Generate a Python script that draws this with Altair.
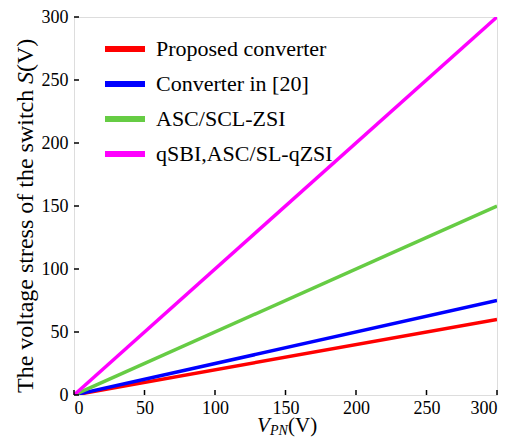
import altair as alt
import pandas as pd

# data
vpn = [0, 300]
series_names = ["Proposed converter", "Converter in [20]", "ASC/SCL-ZSI", "qSBI,ASC/SL-qZSI"]
proposed = [0, 60]
conv20 = [0, 75]
asc_scl = [0, 150]
qsbi = [0, 300]
colors = ["#ff0000", "#0000ff", "#66cc44", "#ff00ff"]
tick_vals = [0, 50, 100, 150, 200, 250, 300]

rows = []
for name, vals in zip(series_names, [proposed, conv20, asc_scl, qsbi]):
    for xv, yv in zip(vpn, vals):
        rows.append({"series": name, "vpn": xv, "stress": yv})
df = pd.DataFrame(rows)
ticks_df = pd.DataFrame({"t": tick_vals})
one = pd.DataFrame({"a": [0]})

W, H = 423, 378
FONT = "Liberation Serif"

xscale = alt.Scale(domain=[0, 300], nice=False)
yscale = alt.Scale(domain=[0, 300], nice=False)
xaxis = alt.Axis(values=tick_vals, title=None, tickSize=0, domain=False, grid=False,
                 labelFont=FONT, labelFontSize=18, labelColor="black", labelPadding=4)
yaxis = alt.Axis(values=tick_vals, title=None, tickSize=0, domain=False, grid=False,
                 labelFont=FONT, labelFontSize=18, labelColor="black", labelPadding=6)

lines = alt.Chart(df).mark_line(strokeWidth=3.5, clip=True).encode(
    x=alt.X("vpn:Q", scale=xscale, axis=xaxis),
    y=alt.Y("stress:Q", scale=yscale, axis=yaxis),
    color=alt.Color("series:N",
                    scale=alt.Scale(domain=series_names, range=colors),
                    sort=series_names,
                    legend=alt.Legend(title=None, orient="none", legendX=28, legendY=9,
                                      symbolType="stroke", symbolSize=1600,
                                      symbolStrokeWidth=6, labelFont=FONT,
                                      labelFontSize=22, labelColor="black", labelLimit=400,
                                      labelOffset=8, rowPadding=-17, padding=0)),
)

xticks = alt.Chart(ticks_df).mark_rule(color="black", strokeWidth=1.5).encode(
    x=alt.X("t:Q", scale=xscale, axis=xaxis), y=alt.value(H), y2=alt.value(H - 5))
yticks = alt.Chart(ticks_df).mark_rule(color="black", strokeWidth=1.5).encode(
    y=alt.Y("t:Q", scale=yscale, axis=yaxis), x=alt.value(0), x2=alt.value(5))

# x-axis title pieces: V_PN(V)
xt_v = alt.Chart(one).mark_text(text="V", font=FONT, fontSize=21, fontStyle="italic",
                                align="left", baseline="alphabetic", color="black").encode(
    x=alt.value(183), y=alt.value(415))
xt_pn = alt.Chart(one).mark_text(text="PN", font=FONT, fontSize=14, fontStyle="italic",
                                 align="left", baseline="alphabetic", color="black").encode(
    x=alt.value(196), y=alt.value(418))
xt_u = alt.Chart(one).mark_text(text="(V)", font=FONT, fontSize=21,
                                align="left", baseline="alphabetic", color="black").encode(
    x=alt.value(214), y=alt.value(415))

# y-axis title pieces
YF = 24
yt_main = alt.Chart(one).mark_text(text="The voltage stress of the switch", font=FONT, fontSize=YF,
                                   angle=270, align="left", baseline="alphabetic",
                                   color="black").encode(x=alt.value(-41), y=alt.value(376))
yt_s = alt.Chart(one).mark_text(text="S", font=FONT, fontSize=YF, fontStyle="italic",
                                angle=270, align="left", baseline="alphabetic",
                                color="black").encode(x=alt.value(-41), y=alt.value(67))
yt_u = alt.Chart(one).mark_text(text="(V)", font=FONT, fontSize=YF,
                                angle=270, align="left", baseline="alphabetic",
                                color="black").encode(x=alt.value(-41), y=alt.value(55))

chart = alt.layer(lines, xticks, yticks, xt_v, xt_pn, xt_u, yt_main, yt_s, yt_u).properties(
    width=W, height=H,
    autosize=alt.AutoSizeParams(type="none"),
    padding={"left": 66, "top": 9, "right": 10, "bottom": 45},
).configure_view(stroke="black", strokeWidth=2
).configure_axis(labelFont=FONT, labelFontSize=18, labelColor="black"
).configure_legend(labelFont=FONT
).configure(background="white", font=FONT)

chart.save("out.html", embed_options={"renderer": "svg", "actions": False})
